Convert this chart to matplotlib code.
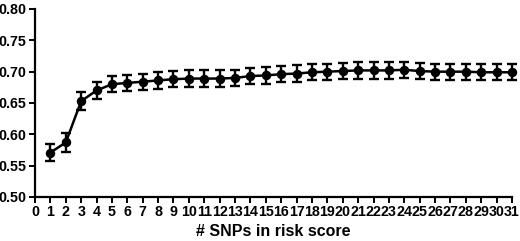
import numpy as np
import matplotlib
matplotlib.use("Agg")
import matplotlib.pyplot as plt

# number of SNPs in the risk score
n_snps = list(range(1, 32))

# AUC per score size
auc = [0.571, 0.587, 0.653, 0.670, 0.680, 0.682, 0.684, 0.686, 0.688, 0.689,
       0.689, 0.689, 0.690, 0.693, 0.694, 0.696, 0.697, 0.699, 0.700, 0.701,
       0.702, 0.702, 0.702, 0.703, 0.701, 0.700, 0.700, 0.700, 0.699, 0.699,
       0.699]

# half-width of the error bars
auc_err = [0.014, 0.015, 0.014, 0.013, 0.013, 0.013, 0.013, 0.013, 0.013, 0.013,
           0.013, 0.013, 0.013, 0.013, 0.013, 0.013, 0.013, 0.013, 0.013, 0.013,
           0.013, 0.013, 0.013, 0.013, 0.013, 0.013, 0.013, 0.013, 0.013, 0.013,
           0.013]

y_ticks = [0.50, 0.55, 0.60, 0.65, 0.70, 0.75, 0.80]
x_ticks = list(range(0, 32))

plt.rcParams["font.family"] = ["Liberation Sans", "DejaVu Sans"]
plt.rcParams["font.weight"] = "bold"

fig = plt.figure(figsize=(5.2, 2.41), dpi=100)
ax = fig.add_axes([35 / 520, 1 - 197 / 241, (512 - 35) / 520, (197 - 9) / 241])

ax.errorbar(n_snps, auc, yerr=auc_err, color="black", lw=1.8,
            marker="o", markersize=5.8, capsize=3.6, capthick=1.7,
            elinewidth=1.7, clip_on=False)

ax.set_xlim(0, 31)
ax.set_ylim(0.50, 0.80)
ax.set_xticks(x_ticks)
ax.set_xticklabels([str(t) for t in x_ticks])
ax.set_yticks(y_ticks)
ax.set_yticklabels([f"{t:.2f}" for t in y_ticks])

for side in ("top", "right"):
    ax.spines[side].set_visible(False)
for side in ("left", "bottom"):
    ax.spines[side].set_linewidth(1.6)

ax.tick_params(axis="both", direction="out", length=4, width=1.4,
               labelsize=10.3, pad=2)
for lab in ax.get_xticklabels() + ax.get_yticklabels():
    lab.set_fontweight("bold")

ax.set_xlabel("# SNPs in risk score", fontsize=11.5, fontweight="bold", labelpad=3)

fig.savefig("out.png", dpi=100)
